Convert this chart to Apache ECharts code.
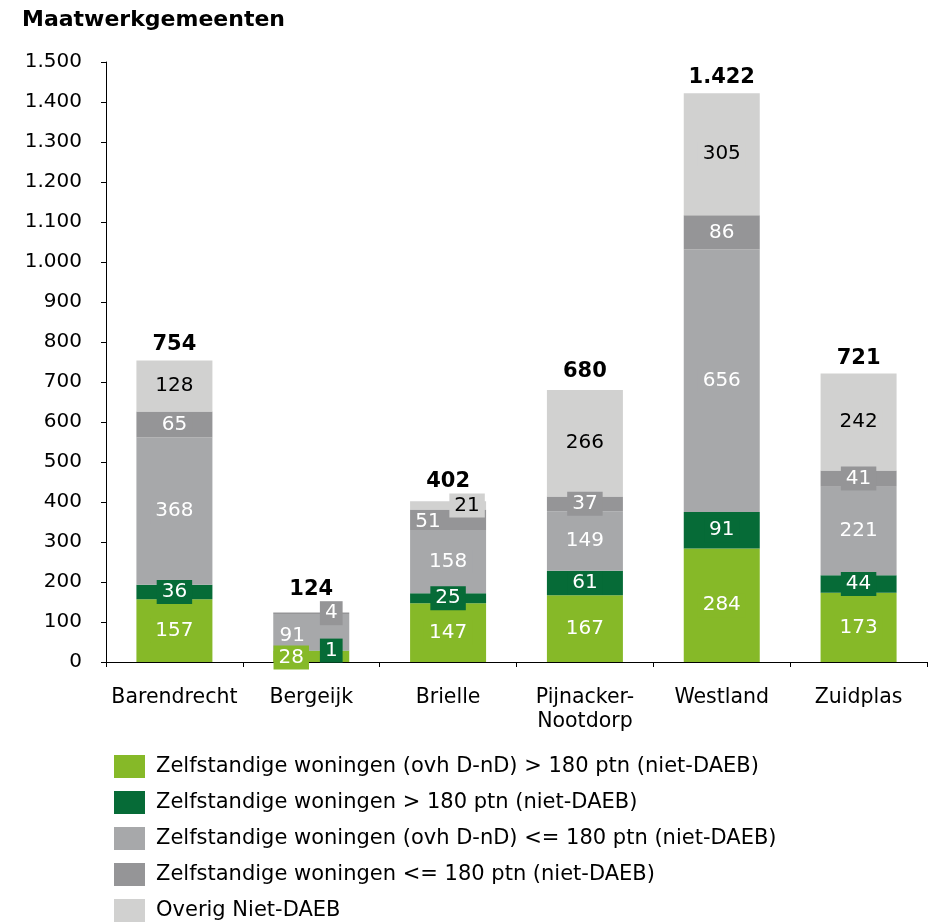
<!DOCTYPE html>
<html>
<head>
<meta charset="utf-8">
<script src="https://cdn.jsdelivr.net/npm/echarts@6/dist/echarts.min.js"></script>
<style>
  html, body { margin: 0; padding: 0; background: #fff; }
  #chart { width: 933px; height: 923px; }
</style>
</head>
<body>
<div id="chart"></div>
<script>
// categorieën en waarden per reeks
const categories = ['Barendrecht', 'Bergeijk', 'Brielle', 'Pijnacker-\nNootdorp', 'Westland', 'Zuidplas'];
const zelfOvhBoven = [157, 28, 147, 167, 284, 173];
const zelfBoven = [36, 1, 25, 61, 91, 44];
const zelfOvhOnder = [368, 91, 158, 149, 656, 221];
const zelfOnder = [65, 4, 51, 37, 86, 41];
const overig = [128, 0, 21, 266, 305, 242];

const seriesNames = [
  'Zelfstandige woningen (ovh D-nD) > 180 ptn (niet-DAEB)',
  'Zelfstandige woningen > 180 ptn (niet-DAEB)',
  'Zelfstandige woningen (ovh D-nD) <= 180 ptn (niet-DAEB)',
  'Zelfstandige woningen <= 180 ptn (niet-DAEB)',
  'Overig Niet-DAEB'
];
const seriesData = [zelfOvhBoven, zelfBoven, zelfOvhOnder, zelfOnder, overig];
const colors = ['#86b928', '#066b37', '#a7a8aa', '#959597', '#d1d1d0'];
const textColors = ['#fff', '#fff', '#fff', '#fff', '#000'];

// labels die opzij geschoven zijn (reeks-categorie)
const labelTweaks = {
  '0-1': { offset: [-20, 1] },
  '1-1': { offset: [20, 0] },
  '2-1': { offset: [-19, 4], backgroundColor: 'transparent' },
  '3-1': { offset: [20, 0] },
  '3-2': { offset: [-20, 2], backgroundColor: 'transparent' },
  '4-2': { offset: [19, 0] }
};
const totalOffsets = [0, -7, -4, -3, 0, 0];

const totals = categories.map((c, i) => seriesData.reduce((s, arr) => s + arr[i], 0));

const fmt = (v) => String(v).replace(/\B(?=(\d{3})+(?!\d))/g, '.');
const font = 'DejaVu Sans';

const chart = echarts.init(document.getElementById('chart'));

const series = seriesData.map((arr, si) => ({
  name: seriesNames[si],
  type: 'bar',
  stack: 'totaal',
  barWidth: 76,
  itemStyle: { color: colors[si] },
  label: {
    show: true,
    position: 'inside',
    color: textColors[si],
    fontFamily: font,
    fontSize: 20,
    backgroundColor: colors[si],
    padding: [2, 5],
    formatter: (p) => fmt(p.value)
  },
  data: arr.map((v, ci) => {
    if (!v) return { value: v, label: { show: false } };
    const tw = labelTweaks[si + '-' + ci];
    return tw ? { value: v, label: tw } : v;
  })
}));

// totalen bovenop de stapel
series.push({
  name: 'Totaal',
  type: 'bar',
  stack: 'totaal',
  barWidth: 76,
  itemStyle: { color: 'transparent' },
  label: {
    show: true,
    position: 'top',
    distance: 5,
    color: '#000',
    fontFamily: font,
    fontSize: 21,
    fontWeight: 'bold',
    formatter: (p) => fmt(totals[p.dataIndex])
  },
  data: totals.map((t, i) => ({ value: 0, label: { offset: [0, totalOffsets[i]] } }))
});

chart.setOption({
  animation: false,
  title: {
    text: 'Maatwerkgemeenten',
    left: 17,
    top: 4,
    textStyle: { fontFamily: font, fontSize: 22, fontWeight: 'bold', color: '#000' }
  },
  legend: {
    data: seriesNames,
    orient: 'vertical',
    left: 109,
    top: 750,
    height: 220,
    icon: 'rect',
    itemWidth: 31,
    itemHeight: 23,
    itemGap: 13,
    textStyle: { fontFamily: font, fontSize: 21, color: '#000', padding: [0, 0, 0, 6] }
  },
  grid: { left: 106, right: 6, top: 62, bottom: 261 },
  xAxis: {
    type: 'category',
    data: categories,
    axisLine: { lineStyle: { color: '#000', width: 1 } },
    axisTick: { show: true, length: 5, alignWithLabel: false, interval: 0, lineStyle: { color: '#000' } },
    axisLabel: { interval: 0, margin: 24, color: '#000', fontFamily: font, fontSize: 20.5, lineHeight: 24 },
    splitLine: { show: false }
  },
  yAxis: {
    type: 'value',
    min: 0,
    max: 1500,
    interval: 100,
    axisLine: { show: true, lineStyle: { color: '#000', width: 1 } },
    axisTick: { show: true, length: 5, lineStyle: { color: '#000' } },
    axisLabel: { margin: 24, color: '#000', fontFamily: font, fontSize: 20, formatter: fmt },
    splitLine: { show: false }
  },
  series: series
});
</script>
</body>
</html>
